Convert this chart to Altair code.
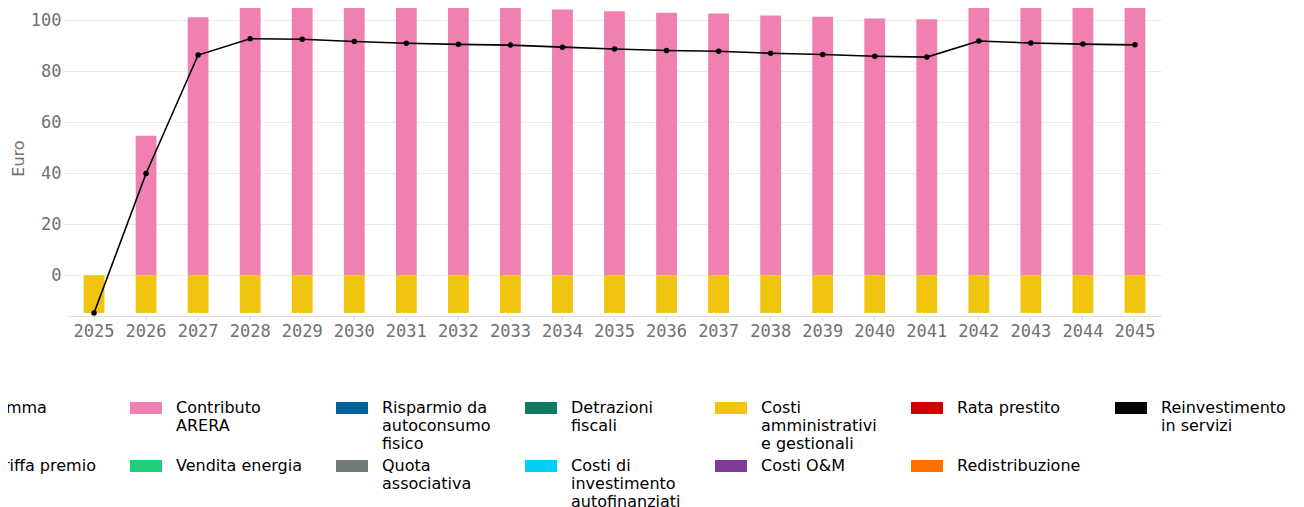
import altair as alt
import pandas as pd

years = ["2025", "2026", "2027", "2028", "2029", "2030", "2031", "2032", "2033", "2034", "2035",
         "2036", "2037", "2038", "2039", "2040", "2041", "2042", "2043", "2044", "2045"]
contributo_arera = [0, 54.7, 101.2, 107.6, 107.4, 106.5, 105.8, 105.4, 105.1, 104.3, 103.6,
                    103.0, 102.7, 101.9, 101.4, 100.7, 100.4, 106.7, 105.9, 105.5, 105.2]
costi_amministrativi = [-14.8, -14.8, -14.8, -14.8, -14.8, -14.8, -14.8, -14.8, -14.8, -14.8, -14.8,
                        -14.8, -14.8, -14.8, -14.8, -14.8, -14.8, -14.8, -14.8, -14.8, -14.8]
somma = [-14.8, 39.9, 86.4, 92.8, 92.6, 91.7, 91.0, 90.6, 90.3, 89.5, 88.8,
         88.2, 87.9, 87.1, 86.6, 85.9, 85.6, 91.9, 91.1, 90.7, 90.4]

categories = ["Somma", "Tariffa premio", "Contributo ARERA", "Vendita energia",
              "Risparmio da autoconsumo fisico", "Quota associativa",
              "Detrazioni fiscali", "Costi di investimento autofinanziati",
              "Costi amministrativi e gestionali", "Costi O&M",
              "Rata prestito", "Redistribuzione", "Reinvestimento in servizi"]
colors = ["#000000", "#3498db", "#f080b0", "#1fcc78", "#00649a", "#6f7a7a",
          "#0f7a62", "#00d0f8", "#f1c40f", "#7d3c98", "#cc0000", "#ff6f00", "#000000"]
wrapped = {
    "Contributo ARERA": ["Contributo", "ARERA"],
    "Risparmio da autoconsumo fisico": ["Risparmio da", "autoconsumo", "fisico"],
    "Detrazioni fiscali": ["Detrazioni", "fiscali"],
    "Costi amministrativi e gestionali": ["Costi", "amministrativi", "e gestionali"],
    "Reinvestimento in servizi": ["Reinvestimento", "in servizi"],
    "Quota associativa": ["Quota", "associativa"],
    "Costi di investimento autofinanziati": ["Costi di", "investimento", "autofinanziati"],
}

label_expr = "datum.label"
for k, v in wrapped.items():
    arr = "[" + ",".join("'" + s + "'" for s in v) + "]"
    label_expr = f"datum.label == '{k}' ? {arr} : ({label_expr})"

rows = []
for i, y in enumerate(years):
    rows.append({"year": y, "categoria": "Contributo ARERA", "valore": contributo_arera[i]})
    rows.append({"year": y, "categoria": "Costi amministrativi e gestionali", "valore": costi_amministrativi[i]})
bars_df = pd.DataFrame(rows)
line_df = pd.DataFrame({"year": years, "somma": somma})

xenc = alt.X("year:O", scale=alt.Scale(paddingInner=0.6, paddingOuter=0.3),
             axis=alt.Axis(title=None, labelAngle=0))
yscale = alt.Scale(domain=[-16, 108], nice=False, zero=False)
yaxis = alt.Axis(title="Euro", values=[0, 20, 40, 60, 80, 100])

bars = alt.Chart(bars_df).mark_bar().encode(
    x=xenc,
    y=alt.Y("valore:Q", stack="zero", scale=yscale, axis=yaxis),
    color=alt.Color(
        "categoria:N",
        scale=alt.Scale(domain=categories, range=colors),
        legend=alt.Legend(
            orient="none", legendX=-120, legendY=400, columns=7, title=None,
            direction="vertical", gridAlign="none",
            symbolType="M-2,-0.75H2V0.75H-2Z", symbolSize=256, symbolStrokeWidth=0,
            labelFontSize=16, labelFont="DejaVu Sans", labelColor="#000000",
            labelBaseline="middle",
            labelOffset=22, columnPadding=34, rowPadding=6, labelLimit=0,
            labelExpr=label_expr, padding=0,
        ),
    ),
    order=alt.Order("categoria:N"),
)

line = alt.Chart(line_df).mark_line(
    color="#000000", strokeWidth=1.6,
    point=alt.OverlayMarkDef(filled=True, color="#000000", size=30, opacity=1),
).encode(
    x=xenc,
    y=alt.Y("somma:Q", scale=yscale, axis=yaxis),
)

chart = alt.layer(bars, line).properties(
    width=1093, height=316,
    autosize=alt.AutoSizeParams(type="none"),
    padding={"left": 60, "top": -8, "right": 135, "bottom": 191},
).configure(
    font="DejaVu Sans",
).configure_view(stroke=None).configure_axis(
    labelFont="DejaVu Sans Mono", labelFontSize=17, labelColor="#707070",
    titleFont="DejaVu Sans", titleFontSize=16, titleColor="#707070", titleFontWeight="normal",
    gridColor="#ebebeb", domainColor="#dddddd", tickColor="#dddddd", tickSize=4,
    labelPadding=3,
).configure_axisY(domain=False, titlePadding=4).configure_axisX(grid=False)

chart.save("out.html", embed_options={"renderer": "svg", "actions": False})
